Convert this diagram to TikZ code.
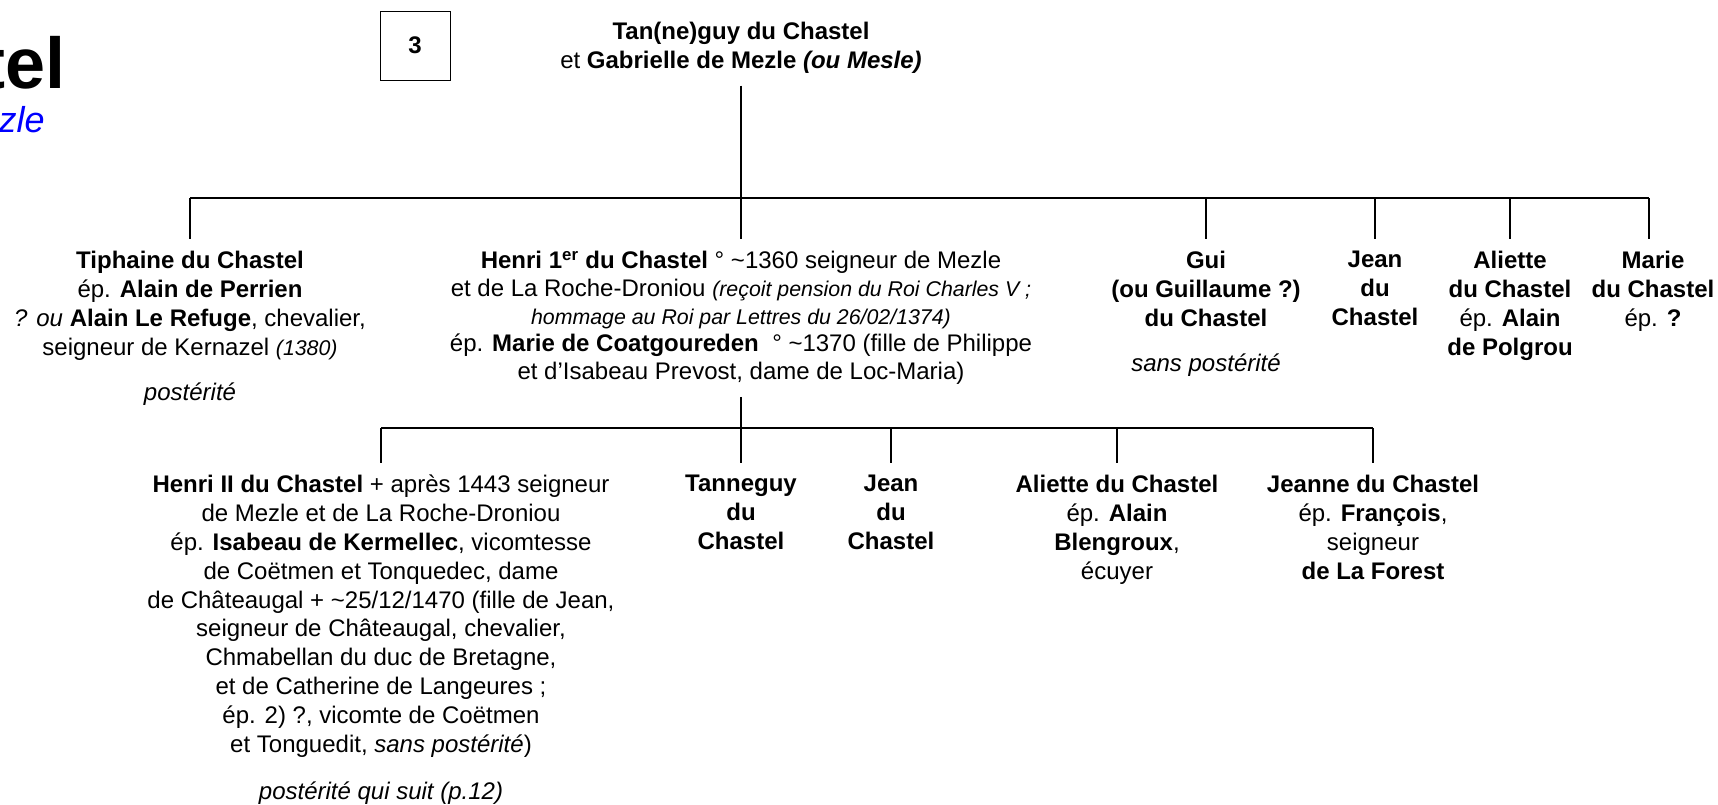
\documentclass[tikz,border=0pt]{standalone}
\usepackage{fontspec}
\setmainfont{Liberation Sans}
\newcommand{\smit}[1]{{\fontsize{16}{20.8}\selectfont\itshape #1}}
\begin{document}
\begin{tikzpicture}[x=0.75pt,y=-0.75pt,
  every node/.style={font=\fontsize{18}{21.6}\selectfont, text=black},
  person/.style={align=center, anchor=north, inner xsep=0pt, inner ysep=9pt},
  note/.style={font=\fontsize{18}{21.6}\selectfont\itshape, inner sep=0pt},
  hline/.style={line width=1.5pt},
  vline/.style={line width=1.1pt}]
\useasboundingbox (0,0) rectangle (1718,804);

% title fragments
\node[anchor=base east, inner sep=0pt, font=\fontsize{54}{60}\selectfont\bfseries] (ttl) at (66,88) {tel};
\node[anchor=base east, inner sep=0pt, font=\fontsize{27}{30}\selectfont\itshape, text=blue] (sub) at (45,132) {zle};

% page box
\node[draw, line width=0.6pt, minimum width=52.5pt, minimum height=51.75pt, inner sep=0pt,
      font=\fontsize{18}{21.6}\selectfont\bfseries] (box3) at (415,45.5) {3};

% parents
\node[person] (top) at (741,10) {\textbf{Tan(ne)guy du Chastel}\\ et \textbf{Gabrielle de Mezle \textit{(ou Mesle)}}};

% generation 1
\node[person] (tiph) at (190,239) {\textbf{Tiphaine du Chastel}\\ ép. \textbf{Alain de Perrien}\\ \textit{? ou} \textbf{Alain Le Refuge}, chevalier,\\ seigneur de Kernazel \smit{(1380)}};
\node[note] (tiphpost) at (190,394) {postérité};

\node[person, font=\fontsize{18}{20.8}\selectfont] (henri1) at (741,239) {\textbf{Henri 1\textsuperscript{er} du Chastel} ° \textasciitilde1360 seigneur de Mezle\\
 et de La Roche-Droniou \smit{(reçoit pension du Roi Charles V ;}\\
 \smit{hommage au Roi par Lettres du 26/02/1374)}\\
 ép. \textbf{Marie de Coatgoureden}\ \ ° \textasciitilde1370 (fille de Philippe\\
 et d’Isabeau Prevost, dame de Loc-Maria)};

\node[person] (gui) at (1206,239) {\textbf{Gui}\\ \textbf{(ou Guillaume ?)}\\ \textbf{du Chastel}};
\node[note] (guipost) at (1206,365) {sans postérité};

\node[person] (jean1) at (1375,239) {\textbf{Jean}\\ \textbf{du}\\ \textbf{Chastel}};
\node[person] (aliette1) at (1510,239) {\textbf{Aliette}\\ \textbf{du Chastel}\\ ép. \textbf{Alain}\\ \textbf{de Polgrou}};
\node[person] (marie) at (1653,239) {\textbf{Marie}\\ \textbf{du Chastel}\\ ép. \textbf{?}};

% generation 2
\node[person] (henri2) at (381,463) {\textbf{Henri II du Chastel} + après 1443 seigneur\\
 de Mezle et de La Roche-Droniou\\
 ép. \textbf{Isabeau de Kermellec}, vicomtesse\\
 de Coëtmen et Tonquedec, dame\\
 de Châteaugal + \textasciitilde25/12/1470 (fille de Jean,\\
 seigneur de Châteaugal, chevalier,\\
 Chmabellan du duc de Bretagne,\\
 et de Catherine de Langeures ;\\
 ép. 2) ?, vicomte de Coëtmen\\
 et Tonguedit, \textit{sans postérité})};
\node[note] (h2post) at (381,793) {postérité qui suit (p.12)};

\node[person] (tanneguy) at (741,463) {\textbf{Tanneguy}\\ \textbf{du}\\ \textbf{Chastel}};
\node[person] (jean2) at (891,463) {\textbf{Jean}\\ \textbf{du}\\ \textbf{Chastel}};
\node[person] (aliette2) at (1117,463) {\textbf{Aliette du Chastel}\\ ép. \textbf{Alain}\\ \textbf{Blengroux},\\ écuyer};
\node[person] (jeanne) at (1373,463) {\textbf{Jeanne du Chastel}\\ ép. \textbf{François},\\ seigneur\\ \textbf{de La Forest}};

% connectors generation 1
\coordinate (bus1) at (741,198);
\coordinate (mtop) at (1649,198);
\draw[vline] (top.south) -- (bus1);
\draw[hline] (tiph.north |- bus1) -- (mtop);
\foreach \c in {tiph,henri1,gui,jean1,aliette1}{
  \draw[vline] (\c.north |- bus1) -- (\c.north);
}
\draw[vline] (mtop) -- (mtop |- marie.north);

% connectors generation 2
\coordinate (bus2) at (741,428);
\draw[vline] (henri1.south) -- (bus2);
\draw[hline] (henri2.north |- bus2) -- (jeanne.north |- bus2);
\foreach \c in {henri2,tanneguy,jean2,aliette2,jeanne}{
  \draw[vline] (\c.north |- bus2) -- (\c.north);
}
\end{tikzpicture}
\end{document}
